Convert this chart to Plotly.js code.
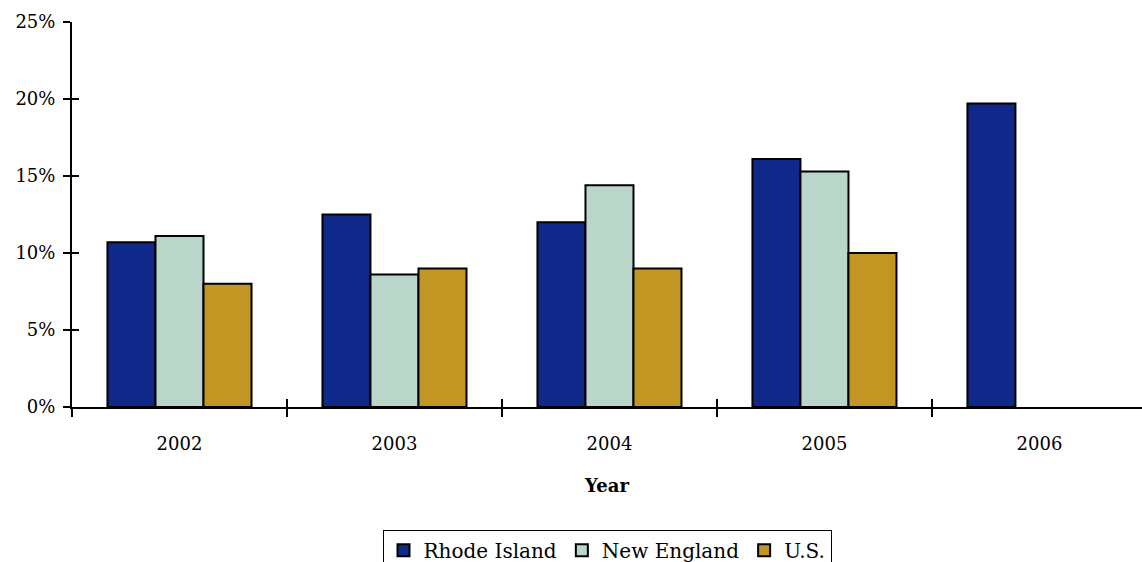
<!DOCTYPE html>
<html>
<head>
<meta charset="utf-8">
<script src="https://cdn.plot.ly/plotly-3.0.1.min.js"></script>
<style>html,body{margin:0;padding:0;background:#fff;overflow:hidden;}#chart{width:1142px;height:562px;overflow:hidden;}</style>
</head>
<body>
<div id="chart"></div>
<script>
const years = ['2002', '2003', '2004', '2005', '2006'];
const rhodeIsland = [10.7, 12.5, 12.0, 16.1, 19.7];
const newEngland = [11.1, 8.6, 14.4, 15.3, null];
const us = [8.0, 9.0, 9.0, 10.0, null];
const seriesNames = ['Rhode Island', 'New England', 'U.S.'];
const yTicks = [0, 5, 10, 15, 20, 25];
const yTickText = yTicks.map(v => v + '%');

const colors = ['#10288A', '#BAD6CB', '#C29623'];
const serif = 'DejaVu Serif, serif';
const xRange = [-0.5, 4.477];

const traces = [rhodeIsland, newEngland, us].map((vals, i) => ({
  type: 'bar',
  name: seriesNames[i],
  x: years,
  y: vals,
  marker: {color: colors[i], line: {color: '#000', width: 2}},
  hoverinfo: 'x+y+name'
}));
// empty helper trace so the overlay axes (inner half of the crossing ticks) get drawn
traces.push({type: 'scatter', x: [], y: [], xaxis: 'x2', yaxis: 'y2', showlegend: false, hoverinfo: 'skip'});

const layout = {
  width: 1142,
  height: 572,
  margin: {l: 72, r: 0, t: 22, b: 165},
  paper_bgcolor: '#fff',
  plot_bgcolor: '#fff',
  barmode: 'group',
  bargap: 0.33,
  bargroupgap: 0,
  font: {family: serif, color: '#000', size: 18},
  xaxis: {
    type: 'category',
    range: xRange,
    tickson: 'boundaries',
    ticks: 'outside',
    ticklen: 8,
    tickwidth: 2,
    tickcolor: '#000',
    showline: true,
    linecolor: '#000',
    linewidth: 2,
    showgrid: false,
    zeroline: false,
    ticklabelstandoff: 19,
    tickfont: {family: serif, size: 18},
    title: {text: '<b>Year</b>', font: {family: serif, size: 18}, standoff: 27}
  },
  xaxis2: {
    overlaying: 'x',
    anchor: 'y',
    type: 'linear',
    range: xRange,
    tickmode: 'array',
    tickvals: [-0.5, 0.5, 1.5, 2.5, 3.5],
    ticks: 'inside',
    ticklen: 8,
    tickwidth: 2,
    tickcolor: '#000',
    showticklabels: false,
    showgrid: false,
    zeroline: false,
    showline: false,
    side: 'bottom'
  },
  yaxis: {
    range: [0, 25],
    tickmode: 'array',
    tickvals: yTicks,
    ticktext: yTickText,
    ticks: 'outside',
    ticklen: 7,
    tickwidth: 2,
    tickcolor: '#000',
    showline: true,
    linecolor: '#000',
    linewidth: 2,
    showgrid: false,
    zeroline: false,
    ticklabelstandoff: 4,
    tickfont: {family: serif, size: 18}
  },
  yaxis2: {
    overlaying: 'y',
    anchor: 'x',
    range: [0, 25],
    tickmode: 'array',
    tickvals: yTicks,
    ticks: 'inside',
    ticklen: 7,
    tickwidth: 2,
    tickcolor: '#000',
    showticklabels: false,
    showgrid: false,
    zeroline: false,
    showline: false,
    side: 'left'
  },
  showlegend: true,
  legend: {
    orientation: 'h',
    x: 0.5,
    xanchor: 'center',
    y: -0.319,
    yanchor: 'top',
    bordercolor: '#000',
    borderwidth: 1,
    bgcolor: '#fff',
    font: {family: serif, size: 20},
    traceorder: 'normal',
    itemclick: false
  }
};

Plotly.newPlot('chart', traces, layout, {displayModeBar: false, staticPlot: true});
</script>
</body>
</html>
